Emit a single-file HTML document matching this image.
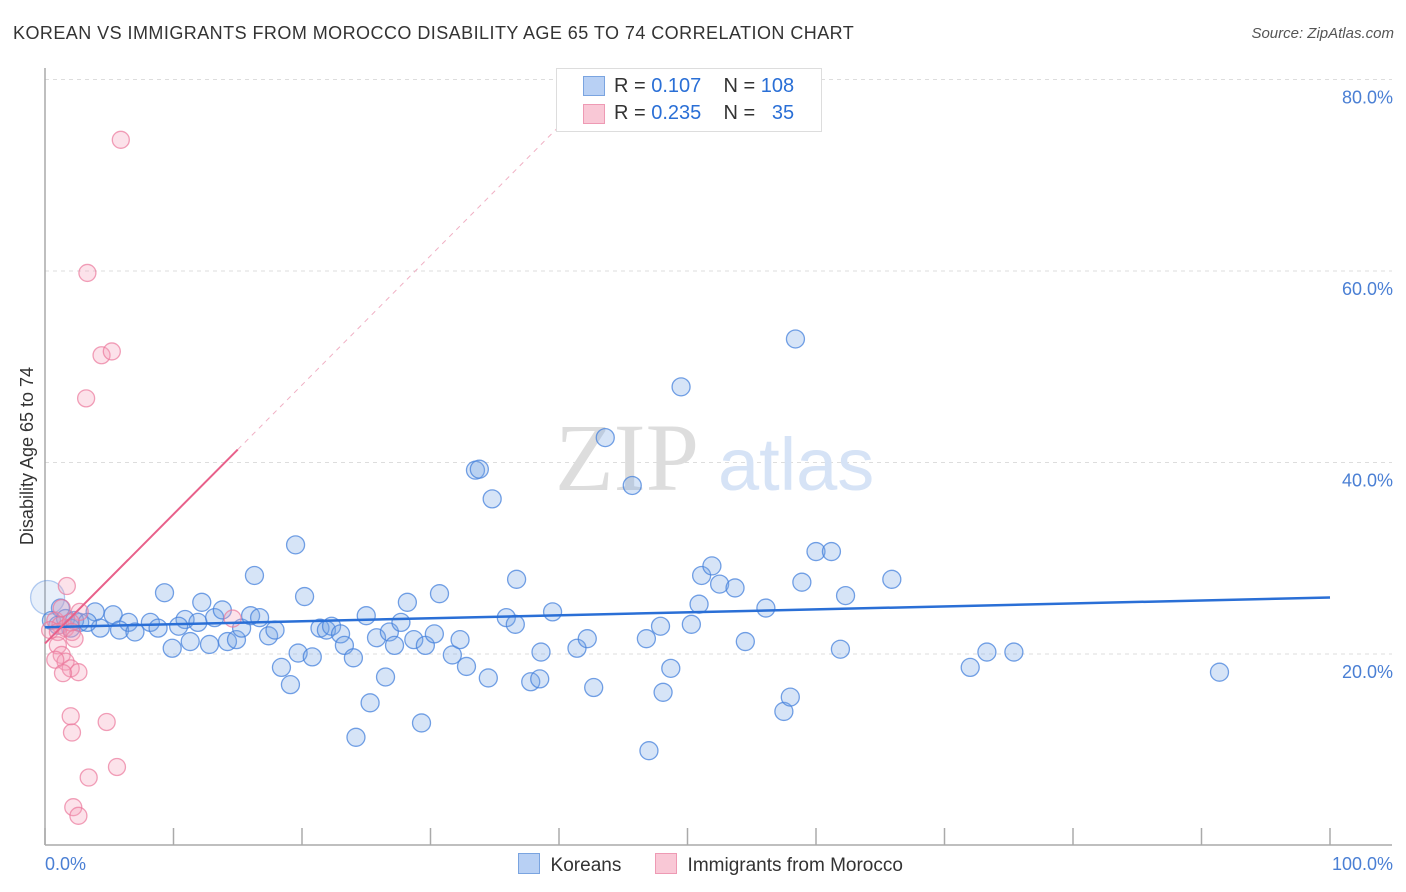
<!DOCTYPE html>
<html><head><meta charset="utf-8"><style>
body{margin:0;background:#fff;font-family:"Liberation Sans",sans-serif;}
#wrap{position:relative;width:1406px;height:892px;}
.t{position:absolute;white-space:nowrap}
</style></head><body>
<div id="wrap">
<div class="t" style="left:13px;top:23px;font-size:18px;color:#333;letter-spacing:0.45px">KOREAN VS IMMIGRANTS FROM MOROCCO DISABILITY AGE 65 TO 74 CORRELATION CHART</div>
<div class="t" style="right:12px;top:25px;font-size:15px;color:#555;font-style:italic">Source: ZipAtlas.com</div>
<svg id="chart" width="1406" height="892" style="position:absolute;left:0;top:0"></svg>
</div>
<script>
const xTicks=[0,10,20,30,40,50,60,70,80,90,100];
const yTicks=[20,40,60,80];
const koreanX=[9.3,12.2,16.3,19.5,20.2,3.9,5.3,6.5,8.2,1.2,2.7,4.3,5.8,7.0,8.8,9.9,10.9,10.4,11.9,11.3,12.8,13.2,13.8,14.2,14.9,15.3,16.0,16.7,17.4,17.9,18.4,19.1,19.7,20.8,21.4,21.9,22.3,23.0,23.3,24.0,24.2,25.0,25.3,25.8,26.5,26.8,27.2,27.7,28.2,28.7,29.3,29.6,30.3,30.7,31.7,32.3,32.8,33.5,33.8,34.5,34.8,35.9,36.6,36.7,37.8,38.5,38.6,39.5,41.4,42.2,42.7,43.6,45.7,46.8,47.0,47.9,48.1,48.7,49.5,50.3,50.9,51.1,51.9,52.5,53.7,54.5,56.1,57.5,58.0,58.4,58.9,60.0,61.2,61.9,62.3,65.9,72.0,73.3,75.4,91.4,0.5,1.0,1.6,2.0,2.3,3.3,0.2];
const koreanY=[26.4,25.4,28.2,31.4,26.0,24.4,24.1,23.3,23.3,24.8,23.3,22.7,22.5,22.3,22.7,20.6,23.6,22.9,23.3,21.3,21.0,23.8,24.6,21.3,21.5,22.7,24.0,23.8,21.9,22.5,18.6,16.8,20.1,19.7,22.7,22.5,22.9,22.1,20.9,19.6,11.3,24.0,14.9,21.7,17.6,22.3,20.9,23.3,25.4,21.5,12.8,20.9,22.1,26.3,19.9,21.5,18.7,39.2,39.3,17.5,36.2,23.8,23.1,27.8,17.1,17.4,20.2,24.4,20.6,21.6,16.5,42.6,37.6,21.6,9.9,22.9,16.0,18.5,47.9,23.1,25.2,28.2,29.2,27.3,26.9,21.3,24.8,14.0,15.5,52.9,27.5,30.7,30.7,20.5,26.1,27.8,18.6,20.2,20.2,18.1,23.5,23.0,23.7,22.7,23.5,23.3,25.9];
const moroccoX=[5.9,3.3,4.4,5.2,3.2,1.7,2.7,14.6,0.8,1.2,1.6,2.0,0.4,1.0,2.1,1.0,1.3,1.6,0.8,2.0,2.6,1.4,2.0,2.1,4.8,3.4,5.6,2.2,2.6,1.3,2.3];
const moroccoY=[73.7,59.8,51.2,51.6,46.7,27.1,24.4,23.7,23.5,23.0,22.7,23.3,22.5,22.3,22.3,20.9,19.9,19.2,19.4,18.5,18.1,18.0,13.5,11.8,12.9,7.1,8.2,4.0,3.1,24.8,21.6];
const koreanTrend=[22.8,25.9];
const moroccoTrend=[21.1,1.35];
const NS="http://www.w3.org/2000/svg";
const svg=document.getElementById('chart');
const X0=45,X1=1330,Y0=845.5,YS=191.5/20;
const sx=v=>X0+(v/100)*(X1-X0);
const sy=v=>Y0-v*YS;
function mk(tag,at,parent){const e=document.createElementNS(NS,tag);for(const k in at)e.setAttribute(k,at[k]);(parent||svg).appendChild(e);return e;}
yTicks.forEach(v=>{
 const g=mk('line',{x1:X0,x2:1392,y1:sy(v),y2:sy(v),stroke:'#ddd','stroke-dasharray':'4,4'});
 
 
 const t=mk('text',{x:1393,y:sy(v)+24,'text-anchor':'end','font-size':18,fill:'#4a7fd4'});
 t.textContent=v.toFixed(1)+'%';
 
 
});
const ax=mk('line',{x1:X0,x2:X0,y1:68,y2:845,stroke:'#aaa','stroke-width':1.5});


const bx=mk('line',{x1:X0,x2:1392,y1:845,y2:845,stroke:'#aaa','stroke-width':1.5});


xTicks.forEach(v=>{
 const tk=mk('line',{x1:sx(v),x2:sx(v),y1:828,y2:845,stroke:'#aaa','stroke-width':1.5});
 
 
});
const xl0=mk('text',{x:45,y:870,'font-size':18,fill:'#4a7fd4'});xl0.textContent='0.0%';


const xl1=mk('text',{x:1393,y:870,'font-size':18,fill:'#4a7fd4','text-anchor':'end'});xl1.textContent='100.0%';


const yt=mk('text',{x:33,y:456,'font-size':18,fill:'#333','text-anchor':'middle',transform:'rotate(-90 33 456)'});yt.textContent='Disability Age 65 to 74';


const wm=mk('text',{x:555,y:490,'font-size':96,fill:'#ddd','font-family':'Liberation Serif'});wm.textContent='ZIP';


const wm2=mk('text',{x:718,y:490,'font-size':74,fill:'#d6e3f6'});wm2.textContent='atlas';


koreanX.forEach((v,i)=>{
 const big=i===koreanX.length-1;
 const c=mk('circle',{cx:sx(v),cy:sy(koreanY[i]),r:big?17:9,fill:big?'rgba(120,165,230,0.18)':'rgba(120,165,230,0.3)',stroke:big?'rgba(70,130,220,0.4)':'rgba(70,130,220,0.75)','stroke-width':1.3});
 
 
});
moroccoX.forEach((v,i)=>{
 const c=mk('circle',{cx:sx(v),cy:sy(moroccoY[i]),r:8.5,fill:'rgba(245,160,185,0.3)',stroke:'rgba(235,120,155,0.7)','stroke-width':1.3});
 
 
});
const kl=mk('line',{x1:sx(0),x2:sx(100),y1:sy(koreanTrend[0]),y2:sy(koreanTrend[1]),stroke:'#2a6fd6','stroke-width':2.5});


const mEnd=15,mDash=(80-moroccoTrend[0])/moroccoTrend[1];
const ml=mk('line',{x1:sx(0),x2:sx(mEnd),y1:sy(moroccoTrend[0]),y2:sy(moroccoTrend[0]+moroccoTrend[1]*mEnd),stroke:'#e8608a','stroke-width':2});


const md=mk('line',{x1:sx(mEnd),x2:sx(mDash),y1:sy(moroccoTrend[0]+moroccoTrend[1]*mEnd),y2:sy(80),stroke:'#f0b0c4','stroke-width':1,'stroke-dasharray':'5,5'});


</script>
<div style="position:absolute;left:556px;top:68px;width:264px;height:62px;background:#fff;border:1px solid #ddd;font-size:20px">
 <div style="position:absolute;left:26px;top:7px;width:20px;height:18px;background:#b8d0f4;border:1px solid #7aa4e0"></div>
 <div class="t" style="left:57px;top:6px;color:#333">R = <span style="color:#2a6fd6">0.107</span>&nbsp;&nbsp;&nbsp; N = <span style="color:#2a6fd6">108</span></div>
 <div style="position:absolute;left:26px;top:35px;width:20px;height:18px;background:#f9c8d6;border:1px solid #ee9ab4"></div>
 <div class="t" style="left:57px;top:33px;color:#333">R = <span style="color:#2a6fd6">0.235</span>&nbsp;&nbsp;&nbsp; N = &nbsp;&nbsp;<span style="color:#2a6fd6">35</span></div>
</div>
<div style="position:absolute;left:518px;top:853px;font-size:19px;color:#333">
 <span style="display:inline-block;width:20px;height:19px;background:#b8d0f4;border:1px solid #7aa4e0;vertical-align:-3px"></span>&nbsp; Koreans</div>
<div style="position:absolute;left:655px;top:853px;font-size:19px;color:#333">
 <span style="display:inline-block;width:20px;height:19px;background:#f9c8d6;border:1px solid #ee9ab4;vertical-align:-3px"></span>&nbsp; Immigrants from Morocco</div>
</body></html>
